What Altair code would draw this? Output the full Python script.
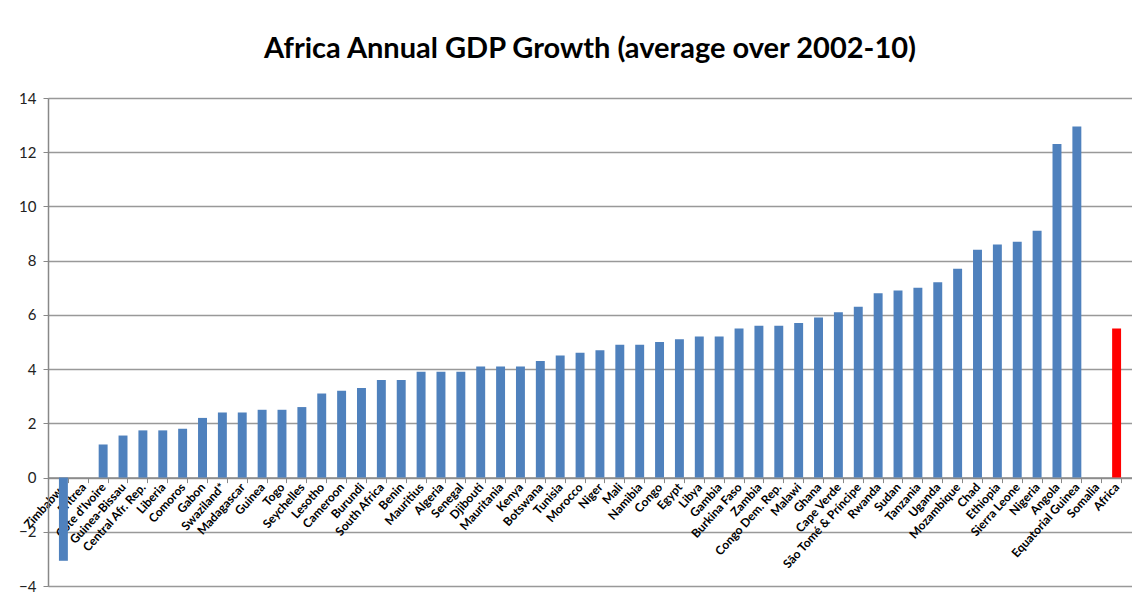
import altair as alt
import pandas as pd

countries = ["Zimbabwe", "Eritrea", "Côte d'Ivoire", "Guinea-Bissau", "Central Afr. Rep.", "Liberia",
             "Comoros", "Gabon", "Swaziland*", "Madagascar", "Guinea", "Togo", "Seychelles", "Lesotho",
             "Cameroon", "Burundi", "South Africa", "Benin", "Mauritius", "Algeria", "Senegal", "Djibouti",
             "Mauritania", "Kenya", "Botswana", "Tunisia", "Morocco", "Niger", "Mali", "Namibia", "Congo",
             "Egypt", "Libya", "Gambia", "Burkina Faso", "Zambia", "Congo Dem. Rep.", "Malawi", "Ghana",
             "Cape Verde", "São Tomé & Príncipe", "Rwanda", "Sudan", "Tanzania", "Uganda", "Mozambique",
             "Chad", "Ethiopia", "Sierra Leone", "Nigeria", "Angola", "Equatorial Guinea", "Somalia", "Africa"]
growth = [-3.07, 0.0, 1.22, 1.55, 1.74, 1.74, 1.8, 2.2, 2.4, 2.4, 2.5, 2.5, 2.6, 3.1,
          3.2, 3.3, 3.6, 3.6, 3.9, 3.9, 3.9, 4.1, 4.1, 4.1, 4.3, 4.5, 4.6, 4.7, 4.9, 4.9, 5.0,
          5.1, 5.2, 5.2, 5.5, 5.6, 5.6, 5.7, 5.9, 6.1, 6.3, 6.8, 6.9, 7.0, 7.2, 7.7,
          8.4, 8.6, 8.7, 9.1, 12.3, 12.95, 0.0, 5.5]
y_ticks = [-4, -2, 0, 2, 4, 6, 8, 10, 12, 14]

df = pd.DataFrame({"country": countries, "growth": growth})

FONT = "Lato, Liberation Sans, sans-serif"

chart = alt.Chart(df).mark_bar().encode(
    x=alt.X("country:N", sort=None, title=None,
            scale=alt.Scale(paddingInner=0.55, paddingOuter=0.55),
            axis=alt.Axis(labelAngle=-48, labelAlign="right", labelBaseline="middle",
                          labelFont=FONT, labelFontSize=12, labelFontWeight="bold",
                          labelColor="#000000", labelPadding=2, offset=-108.4,
                          domainColor="#888888", domainWidth=1.5, tickColor="#888888",
                          tickSize=5, tickBand="extent", labelOverlap=False)),
    y=alt.Y("growth:Q", title=None,
            scale=alt.Scale(domain=[-4, 14], nice=False, zero=False),
            axis=alt.Axis(values=y_ticks, labelFont=FONT, labelFontSize=15,
                          labelColor="#222222", labelPadding=7, gridColor="#999999",
                          gridWidth=1.5, domainColor="#888888", domainWidth=1.5,
                          tickColor="#888888", tickSize=5)),
    color=alt.condition(alt.datum.country == "Africa", alt.value("#FF0000"), alt.value("#4F81BD")),
).properties(
    width=1084, height=488,
    title=alt.TitleParams("Africa Annual GDP Growth (average over 2002-10)", font=FONT,
                          fontSize=29, fontWeight="bold", color="#000000", anchor="middle",
                          offset=27),
    autosize=alt.AutoSizeParams(type="none"),
    padding={"left": 40, "top": 90, "right": 0, "bottom": 8},
).configure_view(stroke=None).configure(background="white")

chart.save("out.html", embed_options={"renderer": "svg", "actions": False})
